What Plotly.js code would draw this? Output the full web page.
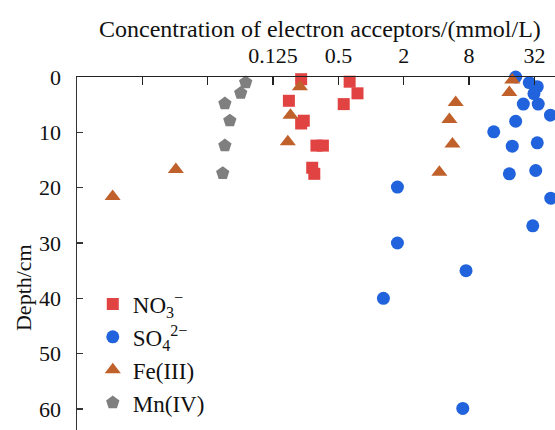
<!DOCTYPE html>
<html>
<head>
<meta charset="utf-8">
<script src="https://cdn.plot.ly/plotly-3.0.1.min.js"></script>
<style>html,body{margin:0;padding:0;background:#fff;}#chart{width:555px;height:430px;}</style>
</head>
<body>
<div id="chart"></div>
<script>
// Data
const no3_conc  = [0.227, 0.175, 0.24, 0.227, 0.314, 0.36, 0.287, 0.30, 0.635, 0.75, 0.56];
const no3_depth = [0.4, 4.3, 7.9, 8.4, 12.4, 12.4, 16.4, 17.5, 0.85, 2.95, 4.9];

const so4_conc  = [21.5, 28.7, 34, 31.7, 25.3, 34.7, 45, 21.5, 13.5, 20, 34, 18.8, 32.9, 45.3, 30.9, 1.75, 1.75, 7.5, 1.30, 7.0];
const so4_depth = [0, 1.0, 1.75, 3.0, 4.9, 4.9, 6.9, 8.0, 9.9, 12.5, 11.9, 17.5, 16.9, 21.9, 26.9, 19.9, 30, 35.0, 40.0, 59.9];

const fe_conc  = [0.00416, 0.0159, 0.171, 0.181, 0.221, 6.02, 5.27, 5.62, 4.26, 20, 18.8];
const fe_depth = [21.6, 16.7, 11.7, 6.9, 1.75, 4.6, 7.7, 12.1, 17.2, 0.55, 2.8];

const mn_conc  = [0.070, 0.063, 0.045, 0.050, 0.045, 0.043];
const mn_depth = [1.0, 2.9, 4.8, 7.9, 12.4, 17.4];

const x_tickvals = [0.125, 0.5, 2, 8, 32];
const x_ticktext = ['0.125', '0.5', '2', '8', '32'];
const x_minorvals = [1/128, 1/32];
const y_tickvals = [0, 10, 20, 30, 40, 50, 60];

const FONT = 'Liberation Serif, Times New Roman, serif';

function tr(name, x, y, symbol, color, size) {
  return {type: 'scatter', mode: 'markers', name: name, x: x, y: y, cliponaxis: false,
    marker: {symbol: symbol, color: color, size: size, line: {width: 0}}};
}

const data = [
  tr('NO<sub>3</sub><sup>−</sup>', no3_conc, no3_depth, 'square', '#e04341', 12),
  tr('SO<sub>4</sub><sup>2−</sup>', so4_conc, so4_depth, 'circle', '#2163dc', 13),
  tr('Fe(III)', fe_conc, fe_depth, 'triangle-up', '#c0602b', 14),
  tr('Mn(IV)', mn_conc, mn_depth, 'pentagon', '#7f7f7f', 14)
];

const L2 = Math.LOG10E * Math.LN2;

const layout = {
  width: 555, height: 430,
  margin: {l: 77, r: 0, t: 77, b: 0, pad: 0},
  paper_bgcolor: '#fff', plot_bgcolor: '#fff',
  font: {family: FONT, size: 22, color: '#111'},
  showlegend: true,
  legend: {x: 0.033, y: 0.418, xanchor: 'left', yanchor: 'top', bgcolor: 'rgba(0,0,0,0)',
    font: {family: FONT, size: 23, color: '#111'}, tracegroupgap: 0},
  xaxis: {type: 'log', side: 'top', range: [-9 * L2, 5.63 * L2],
    tickmode: 'array', tickvals: x_tickvals, ticktext: x_ticktext,
    ticks: 'inside', ticklen: 8, tickwidth: 1.5, tickcolor: '#222',
    minor: {tickmode: 'array', tickvals: x_minorvals, ticks: 'inside', ticklen: 8, tickwidth: 1.5, tickcolor: '#222', showgrid: false},
    showline: true, linecolor: '#222', linewidth: 1.5, showgrid: false, zeroline: false,
    tickfont: {family: FONT, size: 22, color: '#111'}, ticklabelstandoff: 4},
  yaxis: {range: [63.8, 0], tickmode: 'array', tickvals: y_tickvals,
    ticks: 'inside', ticklen: 6, tickwidth: 1.5, tickcolor: '#333',
    showline: true, linecolor: '#333', linewidth: 1.5, showgrid: false, zeroline: false,
    tickfont: {family: FONT, size: 22, color: '#111'}, ticklabelstandoff: 10},
  annotations: [
    {text: 'Concentration of electron acceptors/(mmol/L)', xref: 'paper', yref: 'paper',
     x: 0.508, y: 1.135, xanchor: 'center', yanchor: 'middle', showarrow: false,
     font: {family: FONT, size: 24, color: '#111'}},
    {text: 'Depth/cm', xref: 'paper', yref: 'paper', x: -0.113, y: 0.405, textangle: -90,
     xanchor: 'center', yanchor: 'middle', showarrow: false,
     font: {family: FONT, size: 22, color: '#111'}}
  ]
};

Plotly.newPlot('chart', data, layout, {displayModeBar: false, staticPlot: true});
</script>
</body>
</html>
